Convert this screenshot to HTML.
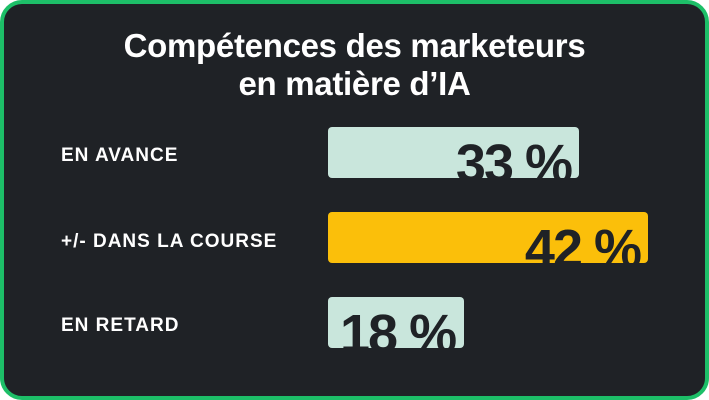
<!DOCTYPE html>
<html><head><style>
body{margin:0;width:709px;height:400px;background:#fff;overflow:hidden}
.card{position:absolute;left:0;top:0;width:701px;height:392px;border:4px solid #1dbf68;border-radius:22px;background:#1f2226;font-family:"Liberation Sans",sans-serif;color:#fff}
h1{position:absolute;left:0;right:0;top:23px;margin:0;text-align:center;font-size:33px;line-height:38px;font-weight:bold;letter-spacing:-0.3px}
.lab{position:absolute;left:57px;font-size:19px;font-weight:bold;letter-spacing:1px}
.bar{position:absolute;left:324px;height:51px;border-radius:4px;overflow:hidden}
.bar span{position:absolute;right:8px;top:10px;font-size:54px;font-weight:bold;color:#1f2226;letter-spacing:-2px;line-height:54px}
</style></head><body>
<div class="card">
<h1>Compétences des marketeurs<br>en matière d’IA</h1>
<div class="lab" style="top:141px">EN AVANCE</div>
<div class="lab" style="top:227px">+/- DANS LA COURSE</div>
<div class="lab" style="top:311px">EN RETARD</div>
<div class="bar" style="top:123px;width:251px;background:#c9e6dc"><span>33 %</span></div>
<div class="bar" style="top:208px;width:320px;background:#fbbf0a"><span>42 %</span></div>
<div class="bar" style="top:293px;width:136px;background:#c9e6dc"><span style="right:auto;left:12px">18 %</span></div>
</div>
</body></html>
